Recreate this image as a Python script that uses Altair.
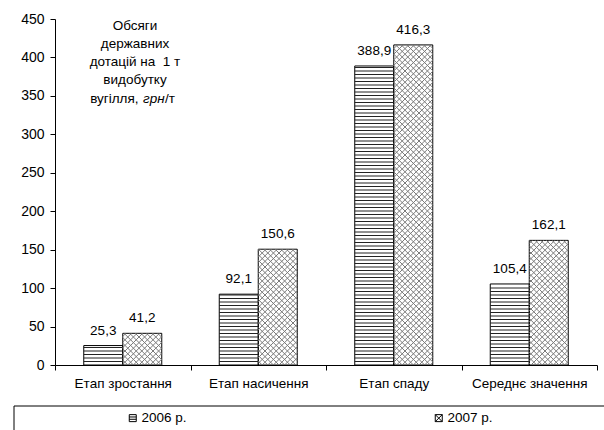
import math
import altair as alt
import pandas as pd

# ---------------- data ----------------
categories = ["Етап зростання", "Етап насичення", "Етап спаду", "Середнє значення"]
years = ["2006 р.", "2007 р."]
values_2006 = [25.3, 92.1, 388.9, 105.4]
values_2007 = [41.2, 150.6, 416.3, 162.1]
y_ticks = [0, 50, 100, 150, 200, 250, 300, 350, 400, 450]
note_lines = ["Обсяги", "державних", "дотацій на \u00a01 т", "видобутку"]
note_last = ["вугілля,", "грн", "/т"]

# ---------------- layout ----------------
W, H = 542, 346
YMAX = 450
PX_X = W / len(categories)      # px per category unit
PX_Y = H / YMAX                 # px per value unit
BAR_W = 39 / PX_X               # bar width in category units
STEP_H = 3.5                    # horizontal hatch spacing, px
STEP_X = 5.6                    # cross hatch period, px
FONT = "Liberation Sans"
FS = 13.5


def fmt(v):
    return f"{v:.1f}".replace(".", ",")


rows = []
for i, c in enumerate(categories):
    center = i + 0.5
    for j, (yr, vals) in enumerate(zip(years, [values_2006, values_2007])):
        x0 = center - BAR_W if j == 0 else center
        rows.append(dict(cat=c, year=yr, x0=x0, x1=x0 + BAR_W, xm=x0 + BAR_W / 2,
                         v=vals[i], label=fmt(vals[i])))
bars = pd.DataFrame(rows)

# hatch segments derived from the bars
segs = []
for r in rows:
    xa, xb = r["x0"] * PX_X, r["x1"] * PX_X
    top = r["v"] * PX_Y
    if r["year"] == years[0]:
        k = 1
        while k * STEP_H < top - 0.8:
            yy = k * STEP_H
            segs.append(dict(year=r["year"], x=xa / PX_X, x2=xb / PX_X, y=yy / PX_Y, y2=yy / PX_Y))
            k += 1
    else:
        # family y = x + b
        for k in range(math.ceil(-xb / STEP_X), math.floor((top - xa) / STEP_X) + 1):
            b = k * STEP_X
            lo, hi = max(xa, -b), min(xb, top - b)
            if hi - lo > 0.3:
                segs.append(dict(year=r["year"], x=lo / PX_X, x2=hi / PX_X,
                                 y=(lo + b) / PX_Y, y2=(hi + b) / PX_Y))
        # family y = -x + b
        for k in range(math.ceil(xa / STEP_X), math.floor((top + xb) / STEP_X) + 1):
            b = k * STEP_X
            lo, hi = max(xa, b - top), min(xb, b)
            if hi - lo > 0.3:
                segs.append(dict(year=r["year"], x=lo / PX_X, x2=hi / PX_X,
                                 y=(b - lo) / PX_Y, y2=(b - hi) / PX_Y))
hatch = pd.DataFrame(segs)

xscale = alt.Scale(domain=[0, len(categories)], nice=False, zero=False)
yscale = alt.Scale(domain=[0, YMAX], nice=False)

tick_vals = [i * 0.5 for i in range(2 * len(categories) + 1)]
label_expr = " : ".join(
    [f"datum.value == {i + 0.5} ? '{c}'" for i, c in enumerate(categories)]) + " : ''"

x_axis = alt.Axis(values=tick_vals, labelExpr=label_expr, title=None, grid=False,
                  tickOpacity={"condition": {"test": "datum.value % 1 == 0", "value": 1}, "value": 0},
                  labelOverlap=False, labelFlush=False, labelBound=False,
                  tickSize=5, labelPadding=6, domainColor="black", tickColor="black",
                  labelColor="black", labelFont=FONT, labelFontSize=FS)
y_axis = alt.Axis(values=y_ticks, title=None, grid=False, tickSize=5, labelPadding=6,
                  domainColor="black", tickColor="black", labelColor="black",
                  labelFont=FONT, labelFontSize=14)

base = alt.Chart(bars)

outlines = base.mark_rect(fillOpacity=0, stroke="black", strokeWidth=1).encode(
    x=alt.X("x0:Q", scale=xscale, axis=x_axis), x2="x1:Q",
    y=alt.Y("v:Q", scale=yscale, axis=y_axis), y2=alt.datum(0))

h_lines = alt.Chart(hatch[hatch.year == years[0]]).mark_rule(color="#222", strokeWidth=1).encode(
    x=alt.X("x:Q", scale=xscale, axis=x_axis), x2="x2:Q",
    y=alt.Y("y:Q", scale=yscale, axis=y_axis), y2="y2:Q")
c_lines = alt.Chart(hatch[hatch.year == years[1]]).mark_rule(color="#7a7a7a", strokeWidth=1).encode(
    x=alt.X("x:Q", scale=xscale, axis=x_axis), x2="x2:Q",
    y=alt.Y("y:Q", scale=yscale, axis=y_axis), y2="y2:Q")

value_labels = base.mark_text(font=FONT, fontSize=FS, color="black", baseline="middle", dy=-15).encode(
    x=alt.X("xm:Q", scale=xscale, axis=x_axis),
    y=alt.Y("v:Q", scale=yscale, axis=y_axis),
    text="label:N")

# legend driven by the year series
legend_pts = base.mark_point(opacity=0).encode(
    x=alt.X("xm:Q", scale=xscale, axis=x_axis),
    y=alt.Y("v:Q", scale=yscale, axis=y_axis),
    shape=alt.Shape("year:N", scale=alt.Scale(
        domain=years,
        range=["M-1,-1H1V1H-1Z M-1,-0.33H1 M-1,0.33H1", "M-1,-1H1V1H-1Z M-1,-1L1,1 M1,-1L-1,1"]),
        legend=alt.Legend(title=None, orient="none", legendX=71, legendY=392,
                          direction="horizontal", columns=2, columnPadding=245,
                          symbolSize=49, symbolStrokeWidth=1, symbolStrokeColor="black",
                          symbolFillColor="white", symbolOpacity=1, labelOffset=2,
                          labelFont=FONT, labelFontSize=FS, labelColor="black", padding=0)))

one = alt.Data(values=[{"a": 1}])
frame = alt.Chart(one).mark_rect(fill=None, stroke="black", strokeWidth=1).encode(
    x=alt.value(-41), x2=alt.value(570), y=alt.value(387), y2=alt.value(430))

LAST_Y = 10.5 + 4 * 18.3
note = alt.Chart(one).mark_text(font=FONT, fontSize=FS, color="black", align="center",
                                baseline="alphabetic", lineHeight=18.3).encode(
    x=alt.value(80), y=alt.value(10.5), text=alt.value(note_lines))
note_a = alt.Chart(one).mark_text(font=FONT, fontSize=FS, color="black", align="right",
                                  baseline="alphabetic").encode(
    x=alt.value(83.5), y=alt.value(LAST_Y), text=alt.value(note_last[0]))
note_b = alt.Chart(one).mark_text(font=FONT, fontSize=FS, color="black", align="left",
                                  baseline="alphabetic", fontStyle="italic").encode(
    x=alt.value(88), y=alt.value(LAST_Y), text=alt.value(note_last[1]))
note_c = alt.Chart(one).mark_text(font=FONT, fontSize=FS, color="black", align="left",
                                  baseline="alphabetic").encode(
    x=alt.value(110), y=alt.value(LAST_Y), text=alt.value(note_last[2]))

chart = alt.layer(outlines, h_lines, c_lines, value_labels, legend_pts, frame,
                  note, note_a, note_b, note_c).properties(
    width=W, height=H,
    autosize=alt.AutoSizeParams(type="none"),
    padding={"left": 55, "top": 19, "right": 7, "bottom": 65},
    background="white",
).configure_view(stroke=None)

chart.save("out.html", embed_options={"renderer": "svg", "actions": False})
